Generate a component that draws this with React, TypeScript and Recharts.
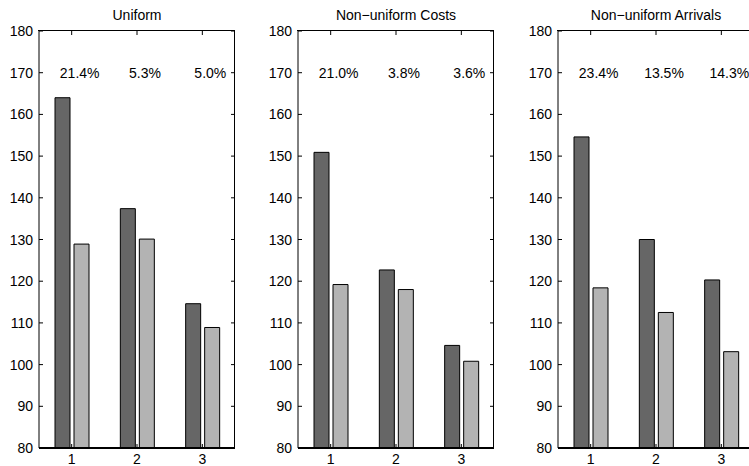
import React from 'react';
import { BarChart, Bar, XAxis, YAxis, ReferenceDot } from 'recharts';

// Categories along the x axis
const categories = ['1', '2', '3'];

// Uniform scenario
const uniformBase = [164.0, 137.4, 114.6];
const uniformImproved = [128.9, 130.1, 108.9];
const uniformGain = ['21.4%', '5.3%', '5.0%'];

// Non-uniform costs scenario
const costsBase = [150.9, 122.7, 104.6];
const costsImproved = [119.2, 118.0, 100.8];
const costsGain = ['21.0%', '3.8%', '3.6%'];

// Non-uniform arrivals scenario
const arrivalsBase = [154.6, 130.0, 120.3];
const arrivalsImproved = [118.4, 112.5, 103.1];
const arrivalsGain = ['23.4%', '13.5%', '14.3%'];

const yTicks = [80, 90, 100, 110, 120, 130, 140, 150, 160, 170, 180];

const FONT = '"Liberation Sans", Arial, Helvetica, sans-serif';
const DARK = '#666666';
const LIGHT = '#b3b3b3';
const TICK_LEN = 4;

// Chart box and plot area
const CHART_W = 250;
const CHART_H = 466;
const MARGIN = { top: 31, right: 15, bottom: 0, left: 0 };
const Y_AXIS_W = 39;
const X_AXIS_H = 18;
const PLOT_W = CHART_W - MARGIN.left - MARGIN.right - Y_AXIS_W;
const PLOT_H = CHART_H - MARGIN.top - MARGIN.bottom - X_AXIS_H;

type PanelProps = {
  title: string;
  base: number[];
  improved: number[];
  gain: string[];
  left: number;
};

// Category tick: inward marks on the bottom and top edges, label below
const BottomTick = (props: any) => {
  const { x, y, payload } = props;
  return (
    <g>
      <rect x={x - 0.5} y={y - TICK_LEN} width={1} height={TICK_LEN} fill="#000" />
      <rect x={x - 0.5} y={y - PLOT_H} width={1} height={TICK_LEN} fill="#000" />
      <text x={x} y={y + 16} textAnchor="middle" fontSize={14} fontFamily={FONT} fill="#000">
        {payload.value}
      </text>
    </g>
  );
};

// Value tick: inward marks on the left and right edges, label at left
const LeftTick = (props: any) => {
  const { x, y, payload } = props;
  return (
    <g>
      <rect x={x} y={y - 0.5} width={TICK_LEN} height={1} fill="#000" />
      <rect x={x + PLOT_W - TICK_LEN} y={y - 0.5} width={TICK_LEN} height={1} fill="#000" />
      <text x={x - 6} y={y + 5} textAnchor="end" fontSize={14} fontFamily={FONT} fill="#000">
        {payload.value}
      </text>
    </g>
  );
};

function Panel({ title, base, improved, gain, left }: PanelProps) {
  const data = categories.map((name, i) => ({
    name,
    base: base[i],
    improved: improved[i],
  }));
  return (
    <div style={{ position: 'absolute', left, top: 0, width: CHART_W, height: CHART_H }}>
      <div
        style={{
          position: 'absolute',
          left: Y_AXIS_W,
          width: PLOT_W,
          top: 7,
          textAlign: 'center',
          fontFamily: FONT,
          fontSize: 14,
          lineHeight: '16px',
          color: '#000',
        }}
      >
        {title}
      </div>
      {/* box outline around the plot area */}
      <div
        style={{
          position: 'absolute',
          left: Y_AXIS_W - 1,
          top: MARGIN.top - 1,
          width: PLOT_W + 1,
          height: PLOT_H + 1,
          borderTop: '1px solid #000',
          borderRight: '1px solid #000',
          boxSizing: 'border-box',
        }}
      />
      <div style={{ position: 'absolute', left: 0, top: 0 }}>
        <BarChart
          width={CHART_W}
          height={CHART_H}
          data={data}
          margin={MARGIN}
          barSize={15}
          barGap={4}
        >
          <XAxis
            dataKey="name"
            height={X_AXIS_H}
            axisLine={{ stroke: '#000', strokeWidth: 2 }}
            tickLine={false}
            tickSize={0}
            tickMargin={0}
            tick={<BottomTick />}
            interval={0}
          />
          <YAxis
            domain={[80, 180]}
            ticks={yTicks}
            width={Y_AXIS_W}
            axisLine={{ stroke: '#000' }}
            tickLine={false}
            tickSize={0}
            tickMargin={0}
            tick={<LeftTick />}
            allowDataOverflow
            interval={0}
          />
          <Bar dataKey="base" fill={DARK} stroke="#000" strokeWidth={1} isAnimationActive={false} />
          <Bar dataKey="improved" fill={LIGHT} stroke="#000" strokeWidth={1} isAnimationActive={false} />
          {categories.map((c, i) => (
            <ReferenceDot
              key={c}
              x={c}
              y={170}
              r={0}
              fill="none"
              stroke="none"
              label={{
                value: gain[i],
                position: 'center',
                dx: 8,
                fontSize: 14,
                fontFamily: FONT,
                fill: '#000',
              }}
            />
          ))}
        </BarChart>
      </div>
    </div>
  );
}

const titles = ['Uniform', 'Non\u2212uniform Costs', 'Non\u2212uniform Arrivals'];

export default function App() {
  return (
    <div
      style={{
        position: 'absolute',
        left: 0,
        top: 0,
        width: 749,
        height: 466,
        overflow: 'hidden',
        background: '#fff',
      }}
    >
      <Panel title={titles[0]} base={uniformBase} improved={uniformImproved} gain={uniformGain} left={0} />
      <Panel title={titles[1]} base={costsBase} improved={costsImproved} gain={costsGain} left={259} />
      <Panel title={titles[2]} base={arrivalsBase} improved={arrivalsImproved} gain={arrivalsGain} left={519} />
    </div>
  );
}
